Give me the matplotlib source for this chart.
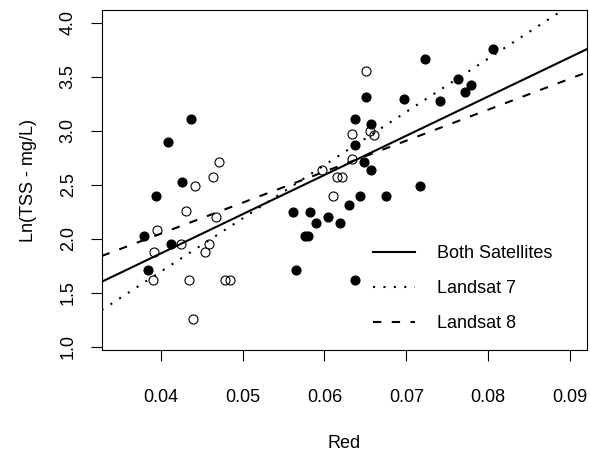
import numpy as np
import matplotlib
matplotlib.use('Agg')
import matplotlib.pyplot as plt

plt.rcParams['font.family'] = ['Liberation Sans', 'DejaVu Sans']

# open circles
x_open = [0.04705, 0.04636, 0.04420, 0.04306, 0.04677, 0.03955, 0.04245, 0.04591,
          0.03922, 0.04546, 0.03910, 0.04346, 0.04779, 0.04840, 0.04392,
          0.06509, 0.06342, 0.06554, 0.06611, 0.06342, 0.05971, 0.06154, 0.06219, 0.06100]
y_open = [2.713, 2.571, 2.485, 2.256, 2.201, 2.083, 1.951, 1.951,
          1.880, 1.880, 1.617, 1.617, 1.617, 1.617, 1.256,
          3.550, 2.970, 3.000, 2.960, 2.740, 2.639, 2.574, 2.574, 2.398]

# filled circles
x_fill = [0.04371, 0.04086, 0.04257, 0.03942, 0.03792, 0.04126, 0.03841,
          0.08064, 0.07223, 0.07635, 0.07794, 0.07716, 0.06504, 0.06966, 0.07415,
          0.06374, 0.06573, 0.06374, 0.06488, 0.06573, 0.07166, 0.05611, 0.05824,
          0.06301, 0.06439, 0.06749, 0.05893, 0.06044, 0.06186, 0.05766, 0.05794,
          0.05652, 0.06374]
y_fill = [3.108, 2.893, 2.528, 2.395, 2.025, 1.948, 1.707,
          3.757, 3.667, 3.479, 3.426, 3.361, 3.315, 3.293, 3.272,
          3.108, 3.065, 2.865, 2.713, 2.639, 2.488, 2.250, 2.250,
          2.309, 2.398, 2.398, 2.145, 2.201, 2.145, 2.025, 2.025,
          1.710, 1.617]

# regression lines (intercept, slope)
fit_labels = ['Both Satellites', 'Landsat 7', 'Landsat 8']
fit_intercept = [0.411, -0.276, 0.900]
fit_slope = [36.33, 49.3, 28.69]
fit_styles = ['-', (0, (1, 4)), (0, (4, 5))]

xlim = (0.03278, 0.09204)
ylim = (0.97, 4.118)

fig = plt.figure(figsize=(5.9, 4.51), dpi=100)
ax = fig.add_axes([0.1724, 0.2239, 0.822, 0.7539])

ax.plot(x_open, y_open, 'o', mfc='none', mec='black', mew=0.8, ms=6.5, ls='none')
ax.plot(x_fill, y_fill, 'o', mfc='black', mec='black', ms=6.3, ls='none')

xx = np.array(xlim)
for a, b, st, lab in zip(fit_intercept, fit_slope, fit_styles, fit_labels):
    ax.plot(xx, a + b * xx, color='black', lw=1.5, ls=st, label=lab)

ax.set_xlim(xlim)
ax.set_ylim(ylim)
ax.set_xticks([0.04, 0.05, 0.06, 0.07, 0.08, 0.09])
ax.set_xticklabels(['0.04', '0.05', '0.06', '0.07', '0.08', '0.09'])
ax.set_yticks([1.0, 1.5, 2.0, 2.5, 3.0, 3.5, 4.0])
ax.set_yticklabels(['1.0', '1.5', '2.0', '2.5', '3.0', '3.5', '4.0'], rotation=90, va='center')
ax.tick_params(axis='both', direction='out', length=8, width=0.8, labelsize=13, colors='black')
ax.tick_params(axis='x', pad=20)
ax.tick_params(axis='y', pad=10)
for s in ax.spines.values():
    s.set_linewidth(0.8)

ax.set_xlabel('Red', fontsize=13, labelpad=21)
ax.set_ylabel('Ln(TSS - mg/L)', fontsize=13, labelpad=16)

ax.legend(loc='upper left', bbox_to_anchor=(0.56, 0.309), frameon=False, fontsize=13,
          handlelength=2.31, handletextpad=1.2, labelspacing=1.0, borderpad=0, borderaxespad=0)

fig.savefig('out.png', dpi=100)
